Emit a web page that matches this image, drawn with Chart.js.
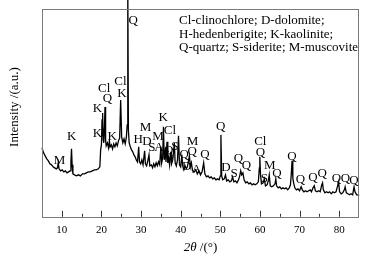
<!DOCTYPE html>
<html>
<head>
<meta charset="utf-8">
<script src="https://cdn.jsdelivr.net/npm/chart.js@4.4.1/dist/chart.umd.min.js"></script>
<style>
html,body{margin:0;padding:0;background:#fff;}
#wrap{width:376px;height:260px;position:relative;}
</style>
</head>
<body>
<div id="wrap"><canvas id="c" width="376" height="260"></canvas></div>
<script>
// 2θ positions (degrees)
const twoTheta = [5.0,5.4,5.8,6.2,6.6,7.0,7.4,7.8,8.2,8.6,8.9,9.1,9.3,9.7,10.1,10.5,10.9,11.3,11.7,12.1,12.3,12.45,12.6,12.8,13.2,13.7,14.2,14.7,15.2,15.7,16.2,16.7,17.2,17.7,18.2,18.7,19.2,19.6,19.8,20.0,20.15,20.3,20.45,20.6,20.75,20.9,21.05,21.2,21.5,21.8,22.0,22.2,22.5,22.8,23.1,23.4,23.7,24.0,24.3,24.6,24.85,25.1,25.4,25.7,26.0,26.3,26.5,26.65,26.8,27.0,27.3,27.6,27.9,28.2,28.5,28.8,29.1,29.4,29.6,29.9,30.2,30.5,30.9,31.1,31.4,31.7,32.0,32.2,32.6,32.9,33.2,33.5,33.8,34.1,34.4,34.7,35.0,35.2,35.45,35.65,35.85,36.1,36.3,36.55,36.75,37.0,37.2,37.5,37.7,38.0,38.4,38.6,38.9,39.2,39.45,39.7,40.0,40.3,40.5,40.8,41.1,41.4,41.7,42.0,42.2,42.45,42.7,43.0,43.4,43.8,44.2,44.6,45.0,45.4,45.8,46.1,46.5,46.9,47.3,47.7,48.1,48.5,48.9,49.3,49.7,50.0,50.15,50.35,50.6,51.0,51.3,51.6,52.0,52.4,52.8,53.1,53.4,53.8,54.2,54.6,54.9,55.15,55.4,55.7,56.0,56.4,56.8,57.2,57.6,58.0,58.4,58.8,59.2,59.6,59.85,59.97,60.15,60.4,60.8,61.1,61.4,61.8,62.1,62.35,62.6,63.0,63.4,63.8,64.0,64.2,64.6,65.0,65.4,65.8,66.2,66.6,67.0,67.4,67.7,67.9,68.1,68.3,68.5,68.8,69.2,69.6,70.0,70.4,70.7,71.1,71.5,71.9,72.3,72.7,73.0,73.4,73.7,74.0,74.4,74.8,75.2,75.6,75.8,76.0,76.4,76.8,77.2,77.6,78.0,78.4,78.8,79.2,79.6,79.85,80.1,80.5,80.9,81.3,81.5,81.8,82.2,82.6,83.0,83.4,83.75,84.0,84.4,84.8,85.0];
// Intensity (a.u.)
const intensity = [69,64,61,58,56,53,52,50,49,48,49,54,48,46,47,45,46,44,45,46,55,68,52,43,42,41,42,41,43,43,44,45,45,46,47,47,48,50,67,72,97,104,77,74,87,110,77,71,74,69,76,70,72,68,73,70,74,71,76,79,117,80,74,78,73,80,92,237,87,74,70,67,65,62,60,57,55,70,55,53,57,52,66,53,51,56,62,51,52,49,53,50,54,51,55,52,70,54,59,90,57,65,55,75,54,59,52,65,53,57,74,54,51,57,81,52,50,62,51,47,51,48,50,57,61,50,54,46,45,47,43,46,42,45,54,43,40,41,39,40,38,39,37,38,37,41,82,41,37,38,42,36,37,35,36,40,35,36,34,37,41,46,42,44,37,34,35,33,34,32,33,32,33,35,49,60,42,33,34,38,31,32,36,42,31,30,31,33,38,31,29,30,28,29,28,29,27,29,32,42,56,39,34,29,27,28,26,30,27,25,26,25,26,27,25,29,31,26,25,26,25,32,34,27,24,25,24,25,23,25,24,25,31,35,25,23,24,27,30,24,23,22,23,22,30,25,22,22,21];
// Tick labels on the 2θ axis
const tickValues = [10,20,30,40,50,60,70,80];
// Phase labels placed above peaks
const peakText = ['M','K','K','Cl','Q','K','K','Cl','K','Q','H','M','D','S','M','A','K','Cl','Q','S','Q','D','M','Q','A','Q','Q','D','S','Q','Q','Cl','Q','M','S','Q','Q','Q','Q','Q','Q','Q','Q'];
const peakX = [9.4,12.5,19.0,20.7,21.5,19.0,22.7,24.8,25.2,28.0,29.3,31.1,31.5,32.7,34.3,34.5,35.6,37.3,37.0,38.5,40.9,41.5,43.0,42.9,44.0,46.1,50.1,51.4,53.5,54.6,56.6,60.1,60.1,62.5,61.1,64.3,68.1,70.2,73.4,75.7,79.3,81.6,83.7];
const peakY = [56,80,108,128,118,83,80,135,123,196,77,89,75,69,80,69,99,86,66,70,62,50,75,65,47,62,90,49,43,58,51,75,64,51,38,43,60,37,39,43,38,38,36];
// Small down-pointing arrows marking shoulders (2θ, intensity of tip)
const arrowX = [20.4, 36.6, 37.7];
const arrowY = [80, 62, 56];
const legendLines = ['Cl-clinochlore; D-dolomite;','H-hedenberigite; K-kaolinite;','Q-quartz; S-siderite; M-muscovite'];

const SERIF = '"Liberation Serif","DejaVu Serif",serif';

const decor = {
  id:'decor',
  afterDatasetsDraw(chart){
    const {ctx, chartArea:a, scales:{x,y}} = chart;
    ctx.save();
    // frame
    ctx.strokeStyle = '#7a7a7a';
    ctx.lineWidth = 1;
    ctx.strokeRect(Math.round(a.left)+0.5, Math.round(a.top)+0.5, Math.round(a.right-a.left)-1, Math.round(a.bottom-a.top));
    // inward ticks
    ctx.strokeStyle = '#333';
    for (let v = 10; v <= 80; v += 5) {
      const px = Math.round(x.getPixelForValue(v)) + 0.5;
      const len = (v % 10 === 0) ? 6 : 3;
      ctx.beginPath(); ctx.moveTo(px, a.bottom); ctx.lineTo(px, a.bottom - len); ctx.stroke();
    }
    // arrows
    ctx.strokeStyle = '#000'; ctx.fillStyle = '#000';
    for (let i = 0; i < arrowX.length; i++) {
      const ax = x.getPixelForValue(arrowX[i]), ay = y.getPixelForValue(arrowY[i]);
      ctx.beginPath(); ctx.moveTo(ax, ay - 9); ctx.lineTo(ax, ay - 3); ctx.stroke();
      ctx.beginPath(); ctx.moveTo(ax - 2, ay - 4); ctx.lineTo(ax + 2, ay - 4); ctx.lineTo(ax, ay); ctx.closePath(); ctx.fill();
    }
    // peak labels
    ctx.fillStyle = '#000';
    ctx.font = '13px ' + SERIF;
    ctx.textAlign = 'center'; ctx.textBaseline = 'middle';
    for (let i = 0; i < peakText.length; i++) {
      ctx.fillText(peakText[i], x.getPixelForValue(peakX[i]), y.getPixelForValue(peakY[i]));
    }
    // legend text
    ctx.textAlign = 'left';
    legendLines.forEach((t, i) => ctx.fillText(t, 179, 21 + i * 13.5));
    // y title
    ctx.save();
    ctx.translate(15, 107);
    ctx.rotate(-Math.PI / 2);
    ctx.textAlign = 'center';
    ctx.font = '13px ' + SERIF;
    ctx.fillText('Intensity /(a.u.)', 0, 0);
    ctx.restore();
    // x title with italic 2θ
    const cx = (a.left + a.right) / 2;
    ctx.font = 'italic 13px ' + SERIF;
    const p1 = '2\u03B8';
    const w1 = ctx.measureText(p1).width;
    ctx.font = '13px ' + SERIF;
    const p2 = ' /(\u00B0)';
    const w2 = ctx.measureText(p2).width;
    const sx = cx - (w1 + w2) / 2;
    ctx.textAlign = 'left';
    ctx.font = 'italic 13px ' + SERIF;
    ctx.fillText(p1, sx, 248);
    ctx.font = '13px ' + SERIF;
    ctx.fillText(p2, sx + w1, 248);
    ctx.restore();
  }
};

new Chart(document.getElementById('c'), {
  type: 'line',
  data: {
    datasets: [{
      data: twoTheta.map((t, i) => ({x: t, y: intensity[i]})),
      borderColor: '#000',
      borderWidth: 1.3,
      pointRadius: 0,
      tension: 0,
      fill: false,
      clip: false
    }]
  },
  options: {
    responsive: false,
    animation: false,
    events: [],
    layout: { padding: { left: 42, right: 17, top: 9, bottom: 16 } },
    plugins: { legend: { display: false }, tooltip: { enabled: false } },
    scales: {
      x: {
        type: 'linear', min: 5, max: 85,
        border: { display: false },
        grid: { display: false, drawTicks: false },
        afterBuildTicks(s){ s.ticks = tickValues.map(v => ({value: v})); },
        ticks: { padding: 7, color: '#000', font: { family: SERIF, size: 11 }, maxRotation: 0, autoSkip: false }
      },
      y: { display: false, min: 0, max: 208 }
    }
  },
  plugins: [decor]
});
</script>
</body>
</html>
